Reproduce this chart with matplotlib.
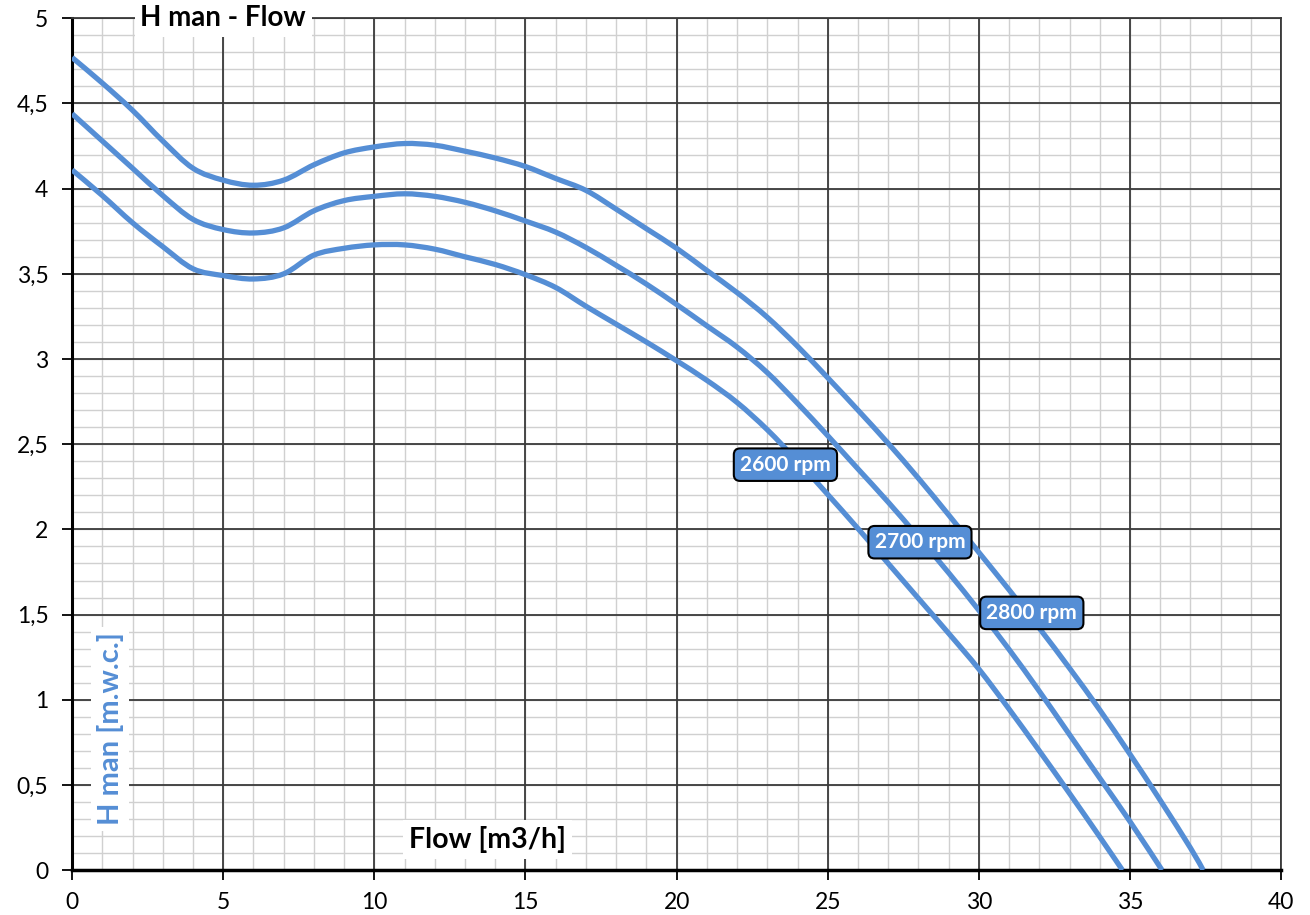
import matplotlib
matplotlib.use('Agg')
import numpy as np
import matplotlib.pyplot as plt
from matplotlib.path import Path
from matplotlib.patches import PathPatch
from matplotlib.ticker import MultipleLocator, FuncFormatter

plt.rcParams['font.family'] = ['Lato', 'DejaVu Sans']

# curve values (flow m3/h -> head m.w.c.)
flow_2800 = [0, 1, 2, 3, 4, 5, 6, 7, 8, 9, 10, 11, 12, 13, 14, 15, 16, 17, 18, 19,
             20, 21, 22, 23, 24, 25, 26, 27, 28, 29, 30, 31, 32, 33, 34, 35, 36, 37, 37.42]
head_2800 = [4.77, 4.62, 4.46, 4.28, 4.12, 4.05, 4.02, 4.05, 4.14, 4.21, 4.245, 4.265,
             4.255, 4.22, 4.18, 4.13, 4.06, 3.99, 3.88, 3.765, 3.65, 3.52, 3.39, 3.245,
             3.075, 2.89, 2.70, 2.505, 2.30, 2.085, 1.865, 1.645, 1.42, 1.185, 0.94, 0.68,
             0.41, 0.13, 0.0]

flow_2700 = [0, 1, 2, 3, 4, 5, 6, 7, 8, 9, 10, 11, 12, 13, 14, 15, 16, 17, 18, 19,
             20, 21, 22, 23, 24, 25, 26, 27, 28, 29, 30, 31, 32, 33, 34, 35, 36.06]
head_2700 = [4.44, 4.28, 4.12, 3.96, 3.82, 3.76, 3.74, 3.77, 3.87, 3.93, 3.955, 3.97,
             3.955, 3.92, 3.87, 3.81, 3.745, 3.655, 3.55, 3.44, 3.32, 3.195, 3.07,
             2.92, 2.74, 2.55, 2.355, 2.16, 1.955, 1.745, 1.525, 1.295, 1.05, 0.795, 0.54,
             0.285, 0.0]

flow_2600 = [0, 1, 2, 3, 4, 5, 6, 7, 8, 9, 10, 11, 12, 13, 14, 15, 16, 17, 18, 19,
             20, 21, 22, 23, 24, 25, 26, 27, 28, 29, 30, 31, 32, 33, 34, 34.75]
head_2600 = [4.11, 3.96, 3.80, 3.66, 3.53, 3.49, 3.47, 3.50, 3.61, 3.65, 3.67, 3.67,
             3.645, 3.60, 3.555, 3.495, 3.42, 3.31, 3.205, 3.10, 2.99, 2.875, 2.745,
             2.585, 2.40, 2.205, 2.005, 1.80, 1.595, 1.39, 1.18, 0.945, 0.70, 0.45, 0.195, 0.0]

speed_labels = ['2600 rpm', '2700 rpm', '2800 rpm']
label_pos = [(23.6, 2.38), (28.05, 1.925), (31.75, 1.51)]

blue = '#558ED5'


def smooth_path(xs, ys):
    # excel style smoothed line: bezier segments through every point
    p = np.column_stack([xs, ys]).astype(float)
    n = len(p)
    verts = [p[0]]
    codes = [Path.MOVETO]
    for i in range(n - 1):
        p0 = p[max(i - 1, 0)]
        p1 = p[i]
        p2 = p[i + 1]
        p3 = p[min(i + 2, n - 1)]
        verts += [p1 + (p2 - p0) / 6, p2 - (p3 - p1) / 6, p2]
        codes += [Path.CURVE4] * 3
    return Path(verts, codes)


fig = plt.figure(figsize=(13.1, 9.15), dpi=100)
rect = [0.055, 0.049, 0.923, 0.931]

# minor grid on its own axes underneath so it never crosses the major lines
ax_bg = fig.add_axes(rect, zorder=0)
ax = fig.add_axes(rect, zorder=1)
ax.patch.set_alpha(0)

for a in (ax_bg, ax):
    a.set_xlim(0, 40)
    a.set_ylim(0, 5)

ax.xaxis.set_major_locator(MultipleLocator(5))
ax.yaxis.set_major_locator(MultipleLocator(0.5))
ax_bg.xaxis.set_major_locator(MultipleLocator(1))
ax_bg.yaxis.set_major_locator(MultipleLocator(0.1))
ax_bg.grid(which='major', color='#d0d0d0', lw=1.0)
ax_bg.tick_params(which='both', length=0, labelbottom=False, labelleft=False)
for s in ax_bg.spines.values():
    s.set_visible(False)

ax.grid(which='major', color='#3a3a3a', lw=1.3, zorder=1)
ax.set_axisbelow(True)

for q, h in [(flow_2800, head_2800), (flow_2700, head_2700), (flow_2600, head_2600)]:
    ax.add_patch(PathPatch(smooth_path(q, h), fill=False, ec=blue, lw=3.8,
                           capstyle='butt', zorder=3))

for txt, (x, y) in zip(speed_labels, label_pos):
    ax.text(x, y, txt, color='white', fontsize=15, fontweight='bold',
            ha='center', va='center', zorder=5,
            bbox=dict(boxstyle='round,pad=0.3,rounding_size=0.3', fc=blue,
                      ec='black', lw=1.5))

ax.yaxis.set_major_formatter(FuncFormatter(lambda v, p: f'{v:g}'.replace('.', ',')))

for s in ['top', 'right']:
    ax.spines[s].set_color('#3a3a3a')
    ax.spines[s].set_linewidth(1.3)
ax.spines['left'].set_linewidth(2.2)
ax.spines['bottom'].set_linewidth(2.5)
ax.tick_params(which='major', direction='out', length=7, width=1.3, labelsize=16.5)
ax.tick_params(axis='y', pad=10)
ax.tick_params(axis='x', pad=9)

# titles sit inside the plot on white boxes
ax.text(5.0, 5.0, 'H man - Flow', fontsize=20, fontweight='bold', ha='center', va='center',
        zorder=6, bbox=dict(fc='white', ec='none', pad=4))
ax.text(13.75, 0.18, 'Flow [m3/h]', fontsize=20.5, fontweight='bold', ha='center', va='center',
        zorder=6, bbox=dict(fc='white', ec='none', pad=4))
ax.text(1.26, 0.83, 'H man [m.w.c.]', fontsize=21, fontweight='bold', color=blue,
        rotation=90, ha='center', va='center', zorder=6,
        bbox=dict(fc='white', ec='none', pad=4))

fig.savefig('out.png', dpi=100)
